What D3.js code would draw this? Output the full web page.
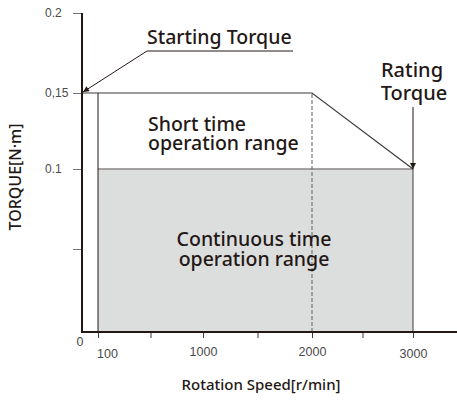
<!DOCTYPE html>
<html>
<head>
<meta charset="utf-8">
<script src="https://cdn.jsdelivr.net/npm/d3@7"></script>
<style>
  body { margin: 0; background: #fff; }
  .ann { font-family: "Noto Sans", sans-serif; fill: #231815; font-weight: 500; }
  .tick text { font-family: "Liberation Sans", Arial, sans-serif; fill: #4a4a4a; }
</style>
</head>
<body>
<div id="chart"></div>
<script>
// values
let envelopeSpeed = [0, 2000, 3000]
let envelopeTorque = [0.15, 0.15, 0.1]
let contSpeed = [100, 3000]
let contTorque = [0.1, 0.1]
let cornerSpeed = 2000
let startSpeed = 100
let xTicks = [100, 550, 1000, 1500, 2000, 2500, 3000]
let xTickLabels = ['100', '', '1000', '', '2000', '', '3000']
let yTicks = [0.05, 0.1, 0.15, 0.2]
let yTickLabels = ['', '0.1', '0,15', '0.2']

let width = 457, height = 401

let svg = d3.select('#chart').append('svg')
  .attr('width', width)
  .attr('height', height)

let defs = svg.append('defs')
defs.append('marker')
  .attr('id', 'head')
  .attr('viewBox', '0 0 10 10')
  .attr('refX', 10).attr('refY', 5)
  .attr('markerWidth', 15).attr('markerHeight', 6)
  .attr('markerUnits', 'userSpaceOnUse')
  .attr('orient', 'auto')
  .append('path')
  .attr('d', 'M0,0 L10,5 L0,10 Z')
  .attr('fill', '#231815')

// axis spacing is not linear in the original, so piecewise scales
let x = d3.scaleLinear()
  .domain([0, 100, 1000, 2000, 3000])
  .range([82, 98, 203, 312, 413])

let y = d3.scaleLinear()
  .domain([0, 0.05, 0.1, 0.15, 0.2])
  .range([332, 249, 169, 93, 13])

// continuous region
svg.append('rect')
  .attr('x', x(contSpeed[0]))
  .attr('y', y(contTorque[0]))
  .attr('width', x(contSpeed[1]) - x(contSpeed[0]))
  .attr('height', y(0) - y(contTorque[0]))
  .attr('fill', '#dcdddd')

svg.append('line')
  .attr('x1', x(contSpeed[0])).attr('x2', x(contSpeed[1]))
  .attr('y1', y(contTorque[0])).attr('y2', y(contTorque[1]))
  .attr('stroke', '#8a8785').attr('stroke-width', 1.5)

svg.append('line')
  .attr('x1', x(contSpeed[1])).attr('x2', x(contSpeed[1]))
  .attr('y1', y(0)).attr('y2', y(contTorque[1]))
  .attr('stroke', '#3e3a39').attr('stroke-width', 1)

// start speed vertical
svg.append('line')
  .attr('x1', x(startSpeed)).attr('x2', x(startSpeed))
  .attr('y1', y(0)).attr('y2', y(envelopeTorque[0]))
  .attr('stroke', '#231815').attr('stroke-width', 1)

// dashed at corner speed
svg.append('line')
  .attr('x1', x(cornerSpeed)).attr('x2', x(cornerSpeed))
  .attr('y1', y(0)).attr('y2', y(envelopeTorque[1]))
  .attr('stroke', '#777').attr('stroke-width', 1.2)
  .attr('stroke-dasharray', '4,2')

// short time envelope
let line = d3.line()
  .x((d, i) => x(envelopeSpeed[i]))
  .y(d => y(d))

svg.append('path')
  .attr('d', line(envelopeTorque))
  .attr('fill', 'none')
  .attr('stroke', '#3e3a39')
  .attr('stroke-width', 1.2)

// axes
let xAxis = d3.axisBottom(x)
  .tickValues(xTicks)
  .tickSize(6)
  .tickSizeOuter(0)
  .tickFormat((d, i) => xTickLabels[i])

let xg = svg.append('g')
  .attr('transform', 'translate(0,' + y(0) + ')')
  .call(xAxis)
xg.select('.domain').remove()
xg.selectAll('.tick line').attr('stroke', '#3e3a39')
xg.selectAll('.tick text')
  .attr('font-size', '12.5px')
  .attr('y', (d, i) => (i === 0 || i === 6) ? 17 : 15)
  .attr('dx', (d, i) => i === 0 ? 9 : 0)

let yAxis = d3.axisLeft(y)
  .tickValues(yTicks)
  .tickSize(9)
  .tickSizeOuter(0)
  .tickFormat((d, i) => yTickLabels[i])

let yg = svg.append('g')
  .attr('transform', 'translate(' + x(0) + ',0)')
  .call(yAxis)
yg.select('.domain').remove()
yg.selectAll('.tick line').attr('stroke', '#777')
yg.selectAll('.tick text')
  .attr('font-size', '12px')
  .attr('text-anchor', 'start')
  .attr('x', 45 - x(0))

svg.append('line')
  .attr('x1', x(0)).attr('x2', width)
  .attr('y1', y(0)).attr('y2', y(0))
  .attr('stroke', '#231815').attr('stroke-width', 2)

svg.append('line')
  .attr('x1', x(0)).attr('x2', x(0))
  .attr('y1', y(0) + 1).attr('y2', y(0.2))
  .attr('stroke', '#231815').attr('stroke-width', 2)

svg.append('text')
  .attr('x', x(0) - 2).attr('y', y(0) + 14)
  .attr('text-anchor', 'middle')
  .attr('font-family', '"Liberation Sans", Arial, sans-serif')
  .attr('font-size', '12.5px')
  .attr('fill', '#4a4a4a')
  .text('0')

// axis titles
svg.append('text')
  .attr('class', 'ann')
  .attr('x', 261).attr('y', 390)
  .attr('text-anchor', 'middle')
  .attr('font-size', '15px')
  .text('Rotation Speed[r/min]')

svg.append('text')
  .attr('class', 'ann')
  .attr('transform', 'translate(21,177) rotate(-90)')
  .attr('text-anchor', 'middle')
  .attr('font-size', '16px')
  .attr('font-weight', 600)
  .text('TORQUE[N·m]')

// starting torque callout
svg.append('text')
  .attr('class', 'ann')
  .attr('x', 147).attr('y', 44)
  .attr('font-size', '19.5px')
  .text('Starting Torque')

svg.append('path')
  .attr('d', 'M293,51 L147,51 L' + (x(0) + 1) + ',' + (y(0.15) - 1))
  .attr('fill', 'none')
  .attr('stroke', '#231815')
  .attr('stroke-width', 1)
  .attr('marker-end', 'url(#head)')

// rating torque callout
svg.append('text')
  .attr('class', 'ann')
  .attr('x', 412).attr('y', 77)
  .attr('text-anchor', 'middle')
  .attr('font-size', '20px')
  .text('Rating')
svg.append('text')
  .attr('class', 'ann')
  .attr('x', 414).attr('y', 100)
  .attr('text-anchor', 'middle')
  .attr('font-size', '20px')
  .text('Torque')

svg.append('line')
  .attr('x1', x(3000)).attr('x2', x(3000))
  .attr('y1', 107).attr('y2', y(0.1))
  .attr('stroke', '#231815')
  .attr('stroke-width', 1)
  .attr('marker-end', 'url(#head)')

// region labels
svg.append('text')
  .attr('class', 'ann')
  .attr('x', 148).attr('y', 131)
  .attr('font-size', '19.5px')
  .text('Short time')
svg.append('text')
  .attr('class', 'ann')
  .attr('x', 148).attr('y', 150)
  .attr('font-size', '19.5px')
  .text('operation range')

svg.append('text')
  .attr('class', 'ann')
  .attr('x', 254).attr('y', 246)
  .attr('text-anchor', 'middle')
  .attr('font-size', '19.5px')
  .text('Continuous time')
svg.append('text')
  .attr('class', 'ann')
  .attr('x', 254).attr('y', 266)
  .attr('text-anchor', 'middle')
  .attr('font-size', '19.5px')
  .text('operation range')
</script>
</body>
</html>
